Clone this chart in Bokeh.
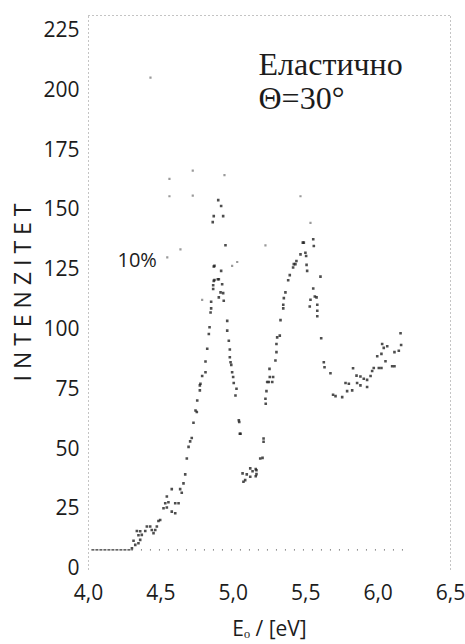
from bokeh.plotting import figure
from bokeh.models import Range1d, FixedTicker, LinearAxis, Label, CustomJSTickFormatter
from bokeh.embed import file_html
from bokeh.resources import INLINE

# ---- data ----
x_ticks = [4.0, 4.5, 5.0, 5.5, 6.0, 6.5]
y_ticks = [0, 25, 50, 75, 100, 125, 150, 175, 200, 225]

energy = [4.300, 4.311, 4.323, 4.334, 4.345, 4.345, 4.357, 4.357, 4.368, 4.392,
          4.403, 4.426, 4.437, 4.449, 4.461, 4.472, 4.483, 4.495, 4.518, 4.530,
          4.541, 4.541, 4.552, 4.575, 4.575, 4.599, 4.599, 4.622, 4.633, 4.644,
          4.656, 4.668, 4.679, 4.691, 4.702, 4.713, 4.725, 4.739, 4.748, 4.751,
          4.769, 4.769, 4.773, 4.785, 4.808, 4.808, 4.820, 4.831, 4.836, 4.843,
          4.847, 4.847, 4.861, 4.861, 4.865, 4.870, 4.893, 4.900, 4.916, 4.923,
          4.912, 4.930, 4.934, 4.900, 4.865, 4.870, 4.858, 4.865, 4.896, 4.916,
          4.930, 4.946, 4.958, 4.958, 4.969, 4.976, 4.976, 4.981, 4.986, 4.992,
          4.999, 5.003, 5.015, 5.022, 5.038, 5.041, 5.045, 5.050, 5.064, 5.070,
          5.082, 5.093, 5.117, 5.117, 5.133, 5.155, 5.155, 5.160, 5.160, 5.186,
          5.202, 5.209, 5.209, 5.222, 5.224, 5.229, 5.234, 5.245, 5.250, 5.252,
          5.269, 5.275, 5.291, 5.298, 5.298, 5.303, 5.321, 5.326, 5.345, 5.345,
          5.349, 5.360, 5.379, 5.390, 5.413, 5.418, 5.429, 5.436, 5.464, 5.480,
          5.487, 5.498, 5.503, 5.506, 5.510, 5.552, 5.556, 5.533, 5.528, 5.552,
          5.563, 5.575, 5.580, 5.580, 5.580, 5.602, 5.607, 5.625, 5.630, 5.671,
          5.689, 5.706, 5.752, 5.775, 5.786, 5.798, 5.821, 5.827, 5.851, 5.855,
          5.878, 5.878, 5.901, 5.924, 5.924, 5.948, 5.959, 5.970, 5.994, 6.005,
          6.023, 6.023, 6.028, 6.039, 6.051, 6.063, 6.097, 6.113, 6.113, 6.143,
          6.155, 6.159]
intensity = [7.9, 11.0, 9.3, 15.1, 10.0, 13.3, 11.4, 15.0, 13.5, 15.1,
             17.0, 17.0, 15.5, 14.2, 15.5, 17.0, 19.3, 19.7, 24.6, 26.7,
             24.9, 29.5, 27.1, 23.2, 32.6, 22.5, 26.7, 26.7, 32.6, 31.1,
             35.0, 38.8, 45.4, 50.3, 52.6, 54.0, 60.4, 65.5, 64.9, 69.7,
             73.9, 76.0, 76.7, 79.9, 81.5, 86.0, 91.3, 97.5, 100.3, 106.5,
             108.2, 111.0, 116.3, 117.9, 119.7, 120.1, 120.4, 120.4, 123.9, 118.3,
             114.9, 114.6, 111.4, 112.8, 125.7, 126.0, 144.3, 146.8, 153.5, 151.0,
             146.8, 134.6, 103.0, 98.9, 94.7, 91.0, 87.8, 85.7, 84.6, 81.5,
             79.5, 77.0, 71.8, 74.6, 61.4, 60.7, 55.8, 55.8, 39.2, 35.7,
             36.4, 38.8, 41.3, 37.8, 40.1, 41.0, 38.0, 38.9, 40.5, 45.4,
             45.7, 53.8, 52.4, 70.4, 68.3, 73.6, 77.4, 77.4, 82.9, 79.5,
             77.4, 79.5, 86.4, 89.9, 93.3, 96.1, 96.8, 103.3, 108.2, 109.7,
             112.5, 114.9, 120.0, 122.1, 125.3, 126.7, 126.7, 128.0, 130.8, 135.7,
             135.7, 131.5, 130.1, 126.4, 123.9, 137.1, 134.3, 111.8, 109.0, 116.5,
             113.2, 112.8, 109.7, 107.2, 104.9, 121.5, 95.7, 85.7, 83.6, 81.1,
             72.1, 71.5, 71.1, 77.0, 73.6, 76.7, 73.9, 83.2, 80.1, 77.0,
             79.7, 76.0, 78.8, 78.3, 75.3, 79.9, 82.0, 83.3, 88.2, 83.3,
             83.3, 89.2, 93.3, 91.7, 86.1, 92.4, 84.0, 84.0, 89.9, 90.5,
             97.8, 92.9]

faint_energy = [4.559, 4.559, 4.720, 4.720, 4.939, 4.635, 4.544, 4.785,
                5.464, 5.533, 5.027, 4.992, 5.222, 4.428]
faint_intensity = [155.1, 162.4, 155.4, 165.8, 163.9, 132.9, 129.5, 111.8,
                   155.1, 144.0, 127.6, 126.0, 134.6, 204.7]

pre_energy = [4.02, 4.30]          # flat signal before threshold
pre_intensity = [7.2, 7.2]
base_energy = [4.30, 6.21]         # dotted background level
base_intensity = [7.2, 7.2]

text_color = "#1c1c1c"

p = figure(width=465, height=644, output_backend="svg", toolbar_location=None,
           x_range=Range1d(4.0, 6.5), y_range=Range1d(-1, 230.7),
           min_border_left=88, min_border_right=15, min_border_top=15,
           min_border_bottom=73, background_fill_color="white",
           border_fill_color="white", outline_line_color=None)
p.xgrid.grid_line_color = None
p.ygrid.grid_line_color = None

# axes
p.xaxis.ticker = FixedTicker(ticks=x_ticks)
p.xaxis.formatter = CustomJSTickFormatter(code="return tick.toFixed(1).replace('.', ',');")
p.yaxis.ticker = FixedTicker(ticks=y_ticks)
for ax in (p.xaxis[0], p.yaxis[0]):
    ax.major_tick_line_color = None
    ax.minor_tick_line_color = None
    ax.major_label_text_font = "Open Sans"
    ax.major_label_text_font_size = "21px"
    ax.major_label_text_color = text_color
    ax.axis_label_text_font = "Open Sans"
    ax.axis_label_text_font_style = "normal"
    ax.axis_label_text_color = text_color
p.xaxis.axis_line_color = None
p.xaxis.major_label_standoff = 8
p.yaxis.major_label_standoff = 3
p.yaxis.axis_line_color = "#888888"
p.yaxis.axis_line_dash = "1 3"
p.xaxis.axis_label = "Eₒ / [eV]"
p.xaxis.axis_label_text_font_size = "21px"
p.xaxis.axis_label_standoff = 11
p.yaxis.axis_label = "I N T E N Z I T E T"
p.yaxis.axis_label_text_font_size = "23px"
p.yaxis.axis_label_standoff = 2

for loc in ("above", "right"):
    ax = LinearAxis(ticker=FixedTicker(ticks=[]), major_label_text_font_size="0px",
                    major_tick_line_color=None, minor_tick_line_color=None,
                    axis_line_color="#888888", axis_line_dash="1 3")
    p.add_layout(ax, loc)

# background level lines
p.line(pre_energy, pre_intensity, line_color="#333333", line_width=1.2, line_dash="3 1")
p.line(base_energy, base_intensity, line_color="#666666", line_width=1.2, line_dash="1 8")

# data
p.scatter(faint_energy, faint_intensity, marker="square", size=2.2,
          fill_color="#9a9a9a", line_color=None)
p.scatter(energy, intensity, marker="square", size=2.6,
          fill_color="#222222", line_color=None, fill_alpha=0.8)

# annotations
p.add_layout(Label(x=5.174, y=210.6, text="Еластично", text_font="Liberation Serif",
                   text_font_size="32px", text_color=text_color,
                   text_baseline="alphabetic"))
p.add_layout(Label(x=5.174, y=196, text="Θ=30°", text_font="Liberation Serif",
                   text_font_size="32px", text_color=text_color,
                   text_baseline="alphabetic"))
p.add_layout(Label(x=4.2, y=128.5, text="10%", text_font="Open Sans",
                   text_font_size="20px", text_color=text_color,
                   text_baseline="middle"))

open("out.html", "w").write(file_html(p, INLINE))
